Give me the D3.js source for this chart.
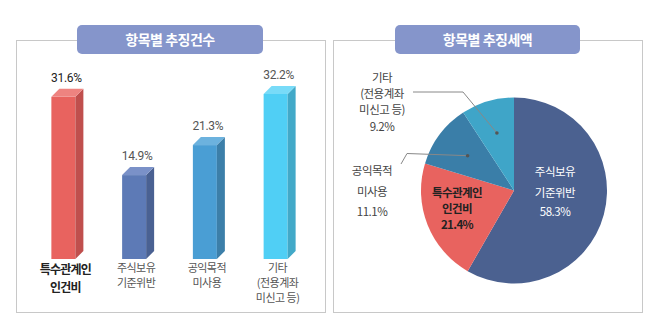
<!DOCTYPE html>
<html><head><meta charset="utf-8">
<script src="https://cdn.jsdelivr.net/npm/d3@7"></script>
<style>
html,body{margin:0;padding:0;background:#fff;}
svg{display:block;font-family:"Noto Sans CJK KR","Noto Sans",sans-serif;}
</style></head>
<body>
<svg id="c" width="663" height="323"></svg>
<script>
// ---- data ----
const barTitle = "항목별 추징건수";
const pieTitle = "항목별 추징세액";
const barCategories = [["특수관계인","인건비"],["주식보유","기준위반"],["공익목적","미사용"],["기타","(전용계좌","미신고 등)"]];
const barValues = [31.6, 14.9, 21.3, 32.2];
const barFront = ["#e8635f","#5d7ab6","#4a9ed4","#50cff5"];
const barSide  = ["#c04f4d","#4a6192","#3c7fa9","#42a9c8"];
const barTop   = ["#ee8380","#7a91c8","#6cb2de","#78dbf8"];

const pieCategories = [["주식보유","기준위반"],["특수관계인","인건비"],["공익목적","미사용"],["기타","(전용계좌","미신고 등)"]];
const pieValues = [58.3, 21.4, 11.1, 9.2];
const pieColors = ["#4b6190","#e8635f","#3a7ea8","#3fa5c8"];

const svg = d3.select("#c");

// ---- panels ----
function panel(x0, x1, tx0, tx1, title){
  svg.append("rect").attr("x",x0+0.5).attr("y",40.5).attr("width",x1-x0).attr("height",272)
    .attr("fill","#fff").attr("stroke","#c8c8c8").attr("stroke-width",1);
  svg.append("rect").attr("x",tx0).attr("y",25).attr("width",tx1-tx0).attr("height",29).attr("rx",5)
    .attr("fill","#8595cb");
  svg.append("text").attr("x",(tx0+tx1)/2).attr("y",44.5).attr("text-anchor","middle")
    .attr("fill","#fff").attr("font-size",14).attr("font-weight","bold").attr("letter-spacing",-0.5).text(title);
}
panel(16, 325, 77, 263, barTitle);
panel(333, 642, 395, 580, pieTitle);

// ---- bar chart ----
const x = d3.scaleBand().domain(d3.range(barValues.length)).range([28, 311]);
const y = d3.scaleLinear().domain([-3, 32.2]).range([259, 94]);
const fw = 24, dd = 8;
const g = svg.append("g");
barValues.forEach((v,i)=>{
  const cx = x(i) + x.bandwidth()/2;
  const xl = cx - fw/2, xr = cx + fw/2, yt = y(v), yb = y.range()[0];
  g.append("rect").attr("x",xl).attr("y",yt).attr("width",fw).attr("height",yb-yt).attr("fill",barFront[i]);
  g.append("path").attr("d",`M${xr},${yt}L${xr+dd},${yt-dd}L${xr+dd},${yb-dd}L${xr},${yb}Z`).attr("fill",barSide[i]);
  g.append("path").attr("d",`M${xl},${yt}L${xl+dd},${yt-dd}L${xr+dd},${yt-dd}L${xr},${yt}Z`).attr("fill",barTop[i]);
  g.append("text").attr("x",cx+3).attr("y",yt-15).attr("text-anchor","middle")
    .attr("font-size",12).attr("fill", i===0?"#222":"#555").attr("letter-spacing",-0.3)
    .attr("font-family","Roboto,'Noto Sans',sans-serif").text(v.toFixed(1)+"%");
  const bold = i===0;
  const lab = g.append("text").attr("text-anchor","middle")
    .attr("font-size", bold?12:11).attr("font-weight", bold?"bold":"normal")
    .attr("fill", bold?"#222":"#555").attr("letter-spacing", bold?-0.8:-0.5);
  barCategories[i].forEach((t,j)=>{
    lab.append("tspan").attr("x",cx+2).attr("y",(bold?274:272)+j*(bold?17.5:15)).text(t);
  });
});

// ---- pie chart ----
const pcx = 514, pcy = 190.5, R = 93;
const pie = d3.pie().sort(null).value(d=>d)(pieValues);
const arc = d3.arc().innerRadius(0).outerRadius(R);
const pg = svg.append("g").attr("transform",`translate(${pcx},${pcy})`);
pg.selectAll("path").data(pie).join("path").attr("d",arc).attr("fill",(d,i)=>pieColors[i]);

// inner labels
function multiText(parent, lines, xx, ys, opts){
  const t = parent.append("text").attr("text-anchor","middle").attr("font-size",opts.size)
    .attr("font-weight",opts.weight||"normal").attr("fill",opts.fill).attr("letter-spacing",opts.ls==null?-0.5:opts.ls);
  lines.forEach((s,j)=>t.append("tspan").attr("x",xx).attr("y",ys[j]).text(s));
  return t;
}
const pct = v => v.toFixed(1)+"%";
multiText(svg, [...pieCategories[0], pct(pieValues[0])], 555, [176,197,216], {size:11.5, fill:"#fff"});
multiText(svg, [...pieCategories[1], pct(pieValues[1])], 457, [197,213,229], {size:11.5, weight:"bold", fill:"#222", ls:-0.6});
// outer labels
multiText(svg, [...pieCategories[3], pct(pieValues[3])], 382, [82,98,114,131], {size:11.5, fill:"#444"});
multiText(svg, [...pieCategories[2], pct(pieValues[2])], 372, [175,196,216], {size:11.5, fill:"#444"});

// leader lines
const ang = d => (d.startAngle + d.endAngle)/2;
function anchor(d, r){ const a = ang(d); return [pcx + Math.sin(a)*r, pcy - Math.cos(a)*r]; }
const pEtc = anchor(pie[3], 60);
const pPub = anchor(pie[2], 58);
svg.append("path").attr("d",`M413,92L463,92L${pEtc[0]},${pEtc[1]}`).attr("fill","none").attr("stroke","#888").attr("stroke-width",1);
svg.append("circle").attr("cx",pEtc[0]).attr("cy",pEtc[1]).attr("r",1.8).attr("fill","#555");
svg.append("path").attr("d",`M401,164L407,153.5L${pPub[0]},${pPub[1]}`).attr("fill","none").attr("stroke","#888").attr("stroke-width",1);
svg.append("circle").attr("cx",pPub[0]).attr("cy",pPub[1]).attr("r",1.8).attr("fill","#555");
</script>
</body></html>
